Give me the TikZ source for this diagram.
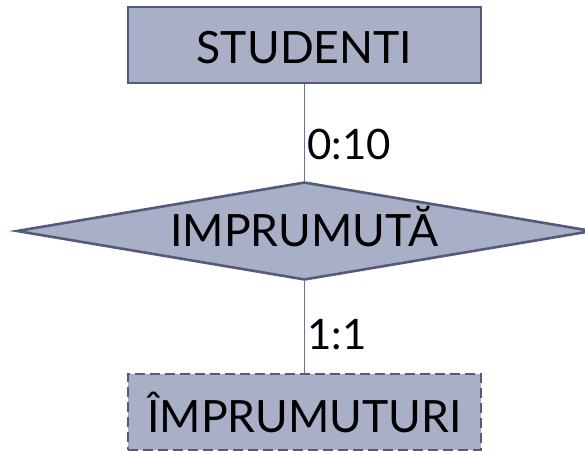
\documentclass[tikz,border=0pt]{standalone}
\usepackage{fontspec}
\setmainfont{Lato}
\usepackage{tikz}
\usetikzlibrary{shapes.geometric}

\definecolor{erfill}{HTML}{AAAFC8}
\definecolor{erline}{HTML}{535B7D}
\definecolor{erlink}{HTML}{6A7399}

\tikzset{
  entity/.style={draw=erline, line width=2.6pt, fill=erfill, minimum width=353pt,
    minimum height=76pt, inner sep=0pt, font=\fontsize{44.5}{50}\selectfont,
    text height=36pt, text depth=0pt},
  weakentity/.style={entity, dash pattern=on 10pt off 5pt, text height=41pt},
  relation/.style={diamond, draw=erline, line width=2.6pt, fill=erfill, aspect=5.9,
    minimum width=576pt, minimum height=98pt, inner sep=0pt,
    font=\fontsize{44.5}{50}\selectfont, text height=31pt, text depth=0pt},
  card/.style={anchor=west, inner sep=0pt, font=\fontsize{42}{48}\selectfont,
    text height=30pt, text depth=0pt},
  link/.style={draw=erlink, line width=1.8pt}
}

\begin{document}
\begin{tikzpicture}[x=1pt,y=1pt]
\useasboundingbox (0,0) rectangle (585,-450);

\node[entity] (studenti) at (304.5,-45) {STUDENTI};
\node[relation] (imprumuta) at (304.5,-231) {IMPRUMUTĂ};
\node[weakentity] (imprumuturi) at (304.5,-412) {ÎMPRUMUTURI};

\draw[link] (studenti.south) -- (imprumuta.north);
\draw[link] (imprumuta.south) -- (imprumuturi.north);

% cardinalitati
\node[card] (cardst) at (307,-144) {0:10};
\node[card] (cardim) at (307,-334) {1:1};
\end{tikzpicture}
\end{document}
